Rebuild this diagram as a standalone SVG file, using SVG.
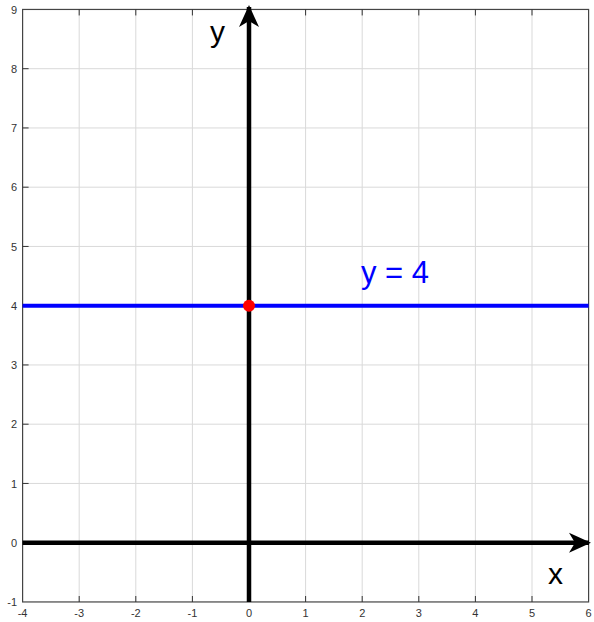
<svg xmlns="http://www.w3.org/2000/svg" width="594" height="622" viewBox="0 0 594 622">
<style>
.grid{stroke:#d9d9d9;stroke-width:1}
.tick{stroke:#333;stroke-width:1}
.tl{font-family:"Liberation Sans",Arial,sans-serif;font-size:11px;fill:#333}
.axis{stroke:#000;stroke-width:4.5;fill:none}
.al{font-family:"Liberation Sans",Arial,sans-serif;font-size:30px;fill:#000}
</style>
<defs>
<marker id="arr" markerUnits="userSpaceOnUse" markerWidth="24" markerHeight="24" viewBox="-22 -12 24 24" refX="0" refY="0" orient="auto">
<path d="M2,0 L-20,-10 L-14,0 L-20,10 Z" fill="#000"/>
</marker>
</defs>
<rect x="0" y="0" width="594" height="622" fill="#fff"/>
<g id="grid">
<path class="grid" d="M79.2,10V602M135.8,10V602M192.4,10V602M305.6,10V602M362.2,10V602M418.8,10V602M475.4,10V602M532,10V602"/>
<path class="grid" d="M22.6,68.7H588.6M22.6,127.95H588.6M22.6,187.2H588.6M22.6,246.45H588.6M22.6,305.7H588.6M22.6,364.95H588.6M22.6,424.2H588.6M22.6,483.45H588.6"/>
</g>
<g id="frame">
<rect x="22.6" y="9.45" width="566" height="592.5" fill="none" stroke="#444" stroke-width="1.2"/>
<path class="tick" d="M79.2,602v-6M135.8,602v-6M192.4,602v-6M249,602v-6M305.6,602v-6M362.2,602v-6M418.8,602v-6M475.4,602v-6M532,602v-6
M79.2,9.45v6M135.8,9.45v6M192.4,9.45v6M249,9.45v6M305.6,9.45v6M362.2,9.45v6M418.8,9.45v6M475.4,9.45v6M532,9.45v6
M22.6,68.7h6M22.6,127.95h6M22.6,187.2h6M22.6,246.45h6M22.6,305.7h6M22.6,364.95h6M22.6,424.2h6M22.6,483.45h6M22.6,542.7h6"/>
</g>
<g id="ylabels" class="tl" text-anchor="end">
<text x="17" y="14">9</text>
<text x="17" y="73">8</text>
<text x="17" y="132">7</text>
<text x="17" y="191">6</text>
<text x="17" y="251">5</text>
<text x="17" y="310">4</text>
<text x="17" y="369">3</text>
<text x="17" y="428">2</text>
<text x="17" y="488">1</text>
<text x="17" y="547">0</text>
<text x="17" y="606">-1</text>
</g>
<g id="xlabels" class="tl" text-anchor="middle">
<text x="22.6" y="617">-4</text>
<text x="79.2" y="617">-3</text>
<text x="135.8" y="617">-2</text>
<text x="192.4" y="617">-1</text>
<text x="249" y="617">0</text>
<text x="305.6" y="617">1</text>
<text x="362.2" y="617">2</text>
<text x="418.8" y="617">3</text>
<text x="475.4" y="617">4</text>
<text x="532" y="617">5</text>
<text x="588.6" y="617">6</text>
</g>
<g id="line-y4">
<line x1="22.6" y1="305.7" x2="588.6" y2="305.7" stroke="#0000ff" stroke-width="4"/>
<text x="361" y="283" font-family="Liberation Sans,Arial,sans-serif" font-size="31" fill="#0000ff">y = 4</text>
</g>
<g id="axes">
<line class="axis" x1="249" y1="602" x2="249" y2="7" marker-end="url(#arr)"/>
<line class="axis" x1="22.6" y1="542.7" x2="589" y2="542.7" marker-end="url(#arr)"/>
<text class="al" x="210" y="42">y</text>
<text class="al" x="548" y="584">x</text>
</g>
<g id="point">
<circle cx="249" cy="305.7" r="6" fill="#ff0000"/>
</g>
</svg>
